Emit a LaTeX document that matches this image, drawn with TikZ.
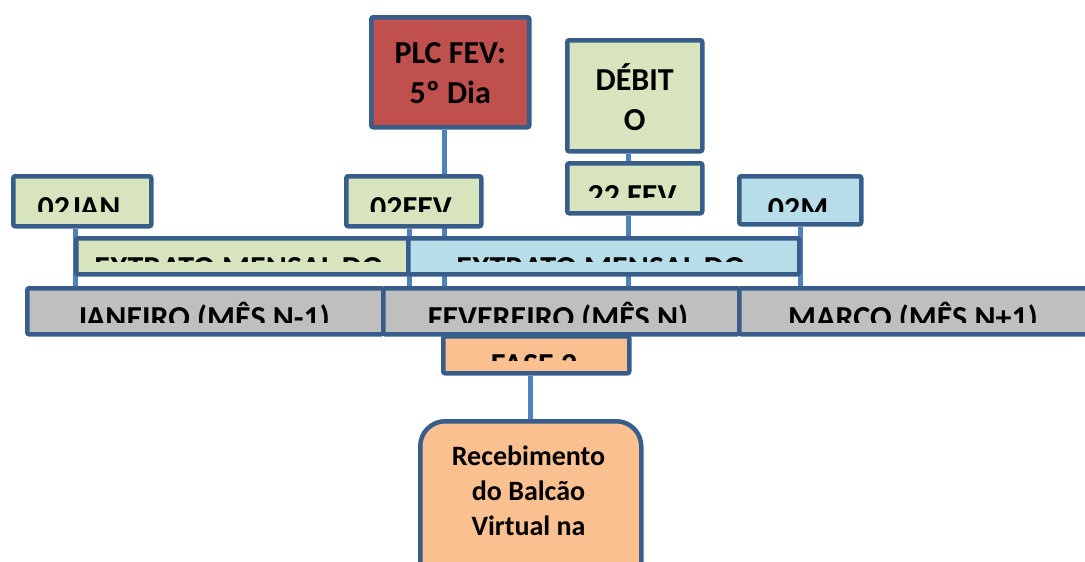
\documentclass[tikz,border=0pt]{standalone}
\usepackage{fontspec}
\setmainfont{Carlito}
\definecolor{bord}{RGB}{56,93,138}
\definecolor{conn}{RGB}{79,129,189}
\definecolor{plcred}{RGB}{192,80,77}
\definecolor{lgreen}{RGB}{215,228,189}
\definecolor{lblue}{RGB}{183,222,232}
\definecolor{lgray}{RGB}{191,191,191}
\definecolor{lorange}{RGB}{250,192,144}
\pgfdeclarelayer{bg}
\pgfsetlayers{bg,main}
\newcommand\myclipped[6]{%
  \begin{scope}
    \clip (0,#3) rectangle (1085,#4);
    \node[txt, anchor=base] (#6) at (#1,#2) {#5};
  \end{scope}}
\begin{document}
\begin{tikzpicture}[x=1pt,y=-1pt,
  box/.style={draw=bord, line width=4.5pt, rounded corners=2pt, inner sep=0pt, anchor=north west},
  txt/.style={inner sep=0pt, font=\fontsize{32}{40}\selectfont\bfseries, align=center},
  link/.style={draw=conn, line width=5pt}]
\useasboundingbox (0,0) rectangle (1085,562);

% boxes
\node[box, fill=plcred, minimum width=158, minimum height=110] (plc) at (369,15) {};
\node[box, fill=lgreen, minimum width=135, minimum height=111] (deb) at (565,38) {};
\node[box, fill=lgreen, minimum width=135, minimum height=50] (f22) at (565,161) {};
\node[box, fill=lgreen, minimum width=138, minimum height=50] (jan02) at (11,174) {};
\node[box, fill=lgreen, minimum width=135, minimum height=50] (feb02) at (344,174) {};
\node[box, fill=lblue, minimum width=122, minimum height=48] (mar02) at (737,174) {};
\node[box, fill=lgreen, minimum width=332, minimum height=36] (ext1) at (74,236) {};
\node[box, fill=lblue, minimum width=391, minimum height=36] (ext2) at (406,236) {};
\node[box, fill=lgray, minimum width=356, minimum height=46] (janrow) at (25,286) {};
\node[box, fill=lgray, minimum width=356, minimum height=46] (febrow) at (381,286) {};
\node[box, fill=lgray, minimum width=356, minimum height=46] (marrow) at (737,286) {};
\node[box, fill=lorange, minimum width=186, minimum height=37] (fase) at (441,334) {};
\node[box, fill=lorange, rounded corners=25pt, minimum width=221, minimum height=190] (rec) at (418,419) {};

% full texts
\node[txt] (tplc) at ([yshift=-1pt]plc.center) {PLC FEV:\\5º Dia};
\node[txt] (tdeb) at ([yshift=-1pt]deb.center) {DÉBIT\\O};
\node[txt, anchor=north, font=\fontsize{28}{35}\selectfont\bfseries] (trec) at (528.5,446) {Recebimento\\do Balcão\\Virtual na};

% clipped texts
\myclipped{79}{218}{180}{211}{02JAN}{tjan}
\myclipped{411}{218}{180}{211}{02FEV}{tfeb}
\myclipped{632}{206}{166}{197}{22 FEV}{tf22}
\myclipped{798}{219}{180}{211}{02M}{tmar}
\myclipped{239}{278}{241}{261}{EXTRATO MENSAL DO}{text1}
\myclipped{601}{278}{241}{261}{EXTRATO MENSAL DO}{text2}
\myclipped{203}{328}{290}{322}{JANEIRO (MÊS N-1)}{tjr}
\myclipped{558}{328}{290}{322}{FEVEREIRO (MÊS N)}{tfr}
\myclipped{913}{328}{290}{322}{MARCO (MÊS N+1)}{tmr}
\myclipped{534}{375}{338}{360}{FASE 2}{tfase}

% connectors (behind boxes)
\begin{pgfonlayer}{bg}
\draw[link] ([xshift=-7pt]jan02.south) -- ([xshift=-7pt]jan02.south |- janrow.north);
\draw[link] ([xshift=-4pt]feb02.south) -- ([xshift=-4pt]feb02.south |- febrow.north);
\draw[link] ([xshift=-6pt]plc.south) -- ([xshift=-6pt]plc.south |- febrow.north);
\draw[link] ([xshift=-6pt]deb.south) -- ([xshift=-6pt]deb.south |- f22.north);
\draw[link] ([xshift=-6pt]f22.south) -- ([xshift=-6pt]f22.south |- febrow.north);
\draw[link] (mar02.south) -- (mar02.south |- marrow.north);
\draw[link] ([xshift=-6pt]fase.south) -- ([xshift=-6pt]fase.south |- rec.north);
\end{pgfonlayer}
\end{tikzpicture}
\end{document}
